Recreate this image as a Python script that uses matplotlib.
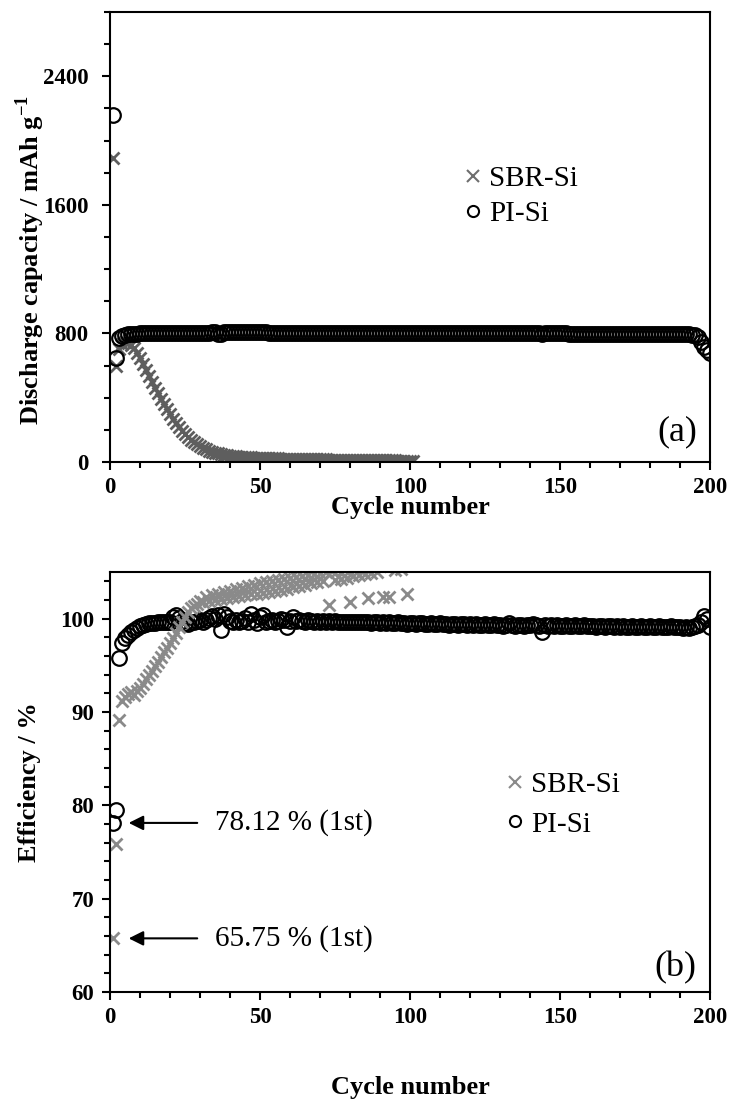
import matplotlib
matplotlib.use("Agg")
import matplotlib.pyplot as plt
from matplotlib.ticker import MultipleLocator
from matplotlib.lines import Line2D

plt.rcParams['font.family'] = ['Liberation Serif', 'DejaVu Serif']
plt.rcParams['mathtext.fontset'] = 'custom'
plt.rcParams['mathtext.rm'] = 'Liberation Serif:bold'
plt.rcParams['mathtext.bf'] = 'Liberation Serif:bold'

# discharge capacity (mAh/g) per cycle
sbr_cap = [
    1890, 600, 700, 735, 745, 740, 728, 708, 680, 648,
    612, 575, 538, 500, 463, 428, 393, 360, 328, 298,
    270, 243, 218, 195, 174, 155, 138, 123, 110, 98,
    88, 79, 71, 64, 58, 53, 49, 45, 42, 39,
    37, 35, 33, 31, 30, 29, 28, 27, 26, 25,
    24, 24, 23, 23, 22, 22, 21, 21, 20, 20,
    19, 19, 19, 18, 18, 18, 17, 17, 17, 16,
    16, 16, 15, 15, 15, 14, 14, 14, 14, 13,
    13, 13, 13, 12, 12, 12, 12, 11, 11, 11,
    11, 10, 10, 10, 10, 9, 9, 9, 9, 8, 8,
]
pi_cap = [
    2160, 645, 772, 786, 792, 795, 797, 798, 799, 800,
    800, 801, 801, 801, 802, 802, 802, 803, 803, 803,
    803, 804, 804, 804, 804, 804, 805, 805, 805, 805,
    805, 805, 805, 806, 806, 798, 795, 806, 806, 806,
    806, 806, 806, 806, 806, 806, 806, 806, 806, 806,
    806, 806, 805, 805, 805, 805, 805, 805, 805, 805,
    805, 805, 805, 805, 805, 805, 805, 805, 805, 804,
    804, 804, 804, 804, 804, 804, 804, 804, 804, 804,
    804, 804, 804, 804, 803, 803, 803, 803, 803, 803,
    803, 803, 803, 803, 803, 803, 803, 803, 803, 802,
    802, 802, 802, 802, 802, 802, 802, 802, 802, 802,
    802, 802, 802, 802, 801, 801, 801, 801, 801, 801,
    801, 801, 801, 801, 801, 801, 801, 801, 801, 801,
    801, 800, 800, 800, 800, 800, 800, 800, 800, 800,
    800, 800, 800, 796, 800, 800, 800, 800, 800, 800,
    800, 800, 799, 799, 799, 799, 799, 799, 799, 799,
    799, 799, 799, 799, 799, 798, 798, 798, 798, 798,
    798, 798, 798, 798, 798, 798, 798, 798, 798, 798,
    797, 797, 797, 797, 797, 797, 797, 797, 797, 797,
    797, 796, 795, 793, 788, 775, 745, 718, 698, 680,
]

# coulombic efficiency (%) per cycle
sbr_eff = [
    65.75, 75.9, 89.2, 91.2, 91.6, 91.9, 92.1, 91.8, 92.3, 92.6,
    93.0, 93.5, 94.0, 94.4, 94.9, 95.4, 95.9, 96.4, 96.9, 97.4,
    97.9, 98.5, 99.1, 99.6, 100.2, 100.7, 101.1, 101.4, 101.6, 101.9,
    101.8, 102.3, 101.9, 102.5, 102.0, 102.7, 102.1, 102.9, 102.2, 103.0,
    102.3, 103.2, 102.4, 103.3, 102.5, 103.5, 102.6, 103.6, 102.7, 103.8,
    102.8, 103.9, 102.9, 104.0, 103.0, 104.1, 103.1, 104.3, 103.2, 104.4,
    103.4, 104.5, 103.5, 104.6, 103.6, 104.7, 103.8, 104.8, 103.9, 104.9,
    104.0, 105.0, 101.5, 105.1, 104.2, 105.2, 104.3, 105.3, 104.4, 101.8,
    104.6, 105.4, 104.7, 105.5, 104.8, 102.2, 104.9, 105.6, 105.0, 105.7,
    102.3, 105.8, 102.3, 105.9, 105.2, 106.0, 105.3, 106.1, 102.7, 106.2,
]
pi_eff = [
    78.12, 79.5, 95.8, 97.4, 97.9, 98.3, 98.6, 98.8, 99.0, 99.2,
    99.3, 99.4, 99.5, 99.5, 99.5, 99.6, 99.6, 99.6, 99.7, 99.7,
    100.2, 100.4, 100.1, 99.8, 99.5, 99.4, 99.6, 99.7, 99.8, 99.9,
    99.7, 99.9, 100.1, 100.3, 100.0, 100.4, 98.8, 100.5, 100.2, 99.8,
    99.7, 99.9, 99.6, 99.8, 100.1, 99.7, 100.5, 99.9, 99.5, 100.2,
    100.4, 99.6, 99.8, 99.9, 99.7, 99.8, 100.0, 99.9, 99.1, 99.8,
    100.2, 99.8, 99.9, 99.8, 99.7, 99.9, 99.8, 99.7, 99.8, 99.7,
    99.8, 99.7, 99.8, 99.7, 99.8, 99.7, 99.7, 99.6, 99.7, 99.6,
    99.7, 99.6, 99.6, 99.7, 99.6, 99.6, 99.5, 99.6, 99.6, 99.5,
    99.6, 99.5, 99.6, 99.5, 99.5, 99.6, 99.5, 99.5, 99.4, 99.5,
    99.5, 99.4, 99.5, 99.5, 99.4, 99.4, 99.5, 99.4, 99.4, 99.5,
    99.4, 99.4, 99.3, 99.4, 99.4, 99.3, 99.4, 99.4, 99.3, 99.4,
    99.3, 99.4, 99.3, 99.3, 99.4, 99.3, 99.3, 99.4, 99.3, 99.3,
    99.2, 99.3, 99.5, 99.3, 99.2, 99.3, 99.3, 99.2, 99.3, 99.3,
    99.4, 99.3, 99.2, 98.6, 99.3, 99.2, 99.3, 99.2, 99.3, 99.2,
    99.2, 99.3, 99.2, 99.2, 99.3, 99.2, 99.2, 99.3, 99.2, 99.2,
    99.2, 99.1, 99.2, 99.2, 99.1, 99.2, 99.2, 99.1, 99.2, 99.1,
    99.2, 99.1, 99.1, 99.2, 99.1, 99.1, 99.2, 99.1, 99.1, 99.2,
    99.1, 99.1, 99.2, 99.1, 99.1, 99.1, 99.2, 99.1, 99.1, 99.1,
    99.0, 99.1, 99.0, 99.1, 99.2, 99.3, 99.7, 100.3, 100.0, 99.1,
]

first_cycle_labels = ['78.12 % (1st)', '65.75 % (1st)']
first_cycle_values = [78.12, 65.75]

sbr_cycles = list(range(1, len(sbr_cap) + 1))
sbr_eff_cycles = list(range(1, len(sbr_eff) + 1))
pi_cycles = list(range(1, len(pi_cap) + 1))

fig = plt.figure(figsize=(7.3, 11.02), dpi=100)
ax1 = fig.add_axes([0.1507, 0.5808, 0.8219, 0.4083])
ax2 = fig.add_axes([0.1507, 0.0998, 0.8219, 0.3811])

circ = dict(marker='o', ls='none', mfc='none', mec='black', ms=10.5, mew=1.6)


def style_axis(ax, ypad):
    for s in ax.spines.values():
        s.set_linewidth(1.5)
    ax.xaxis.set_major_locator(MultipleLocator(50))
    ax.xaxis.set_minor_locator(MultipleLocator(10))
    ax.tick_params(which='both', direction='out', width=1.5, top=False, right=False)
    ax.tick_params(which='major', length=5.5, labelsize=16.5)
    ax.tick_params(which='minor', length=4)
    ax.tick_params(axis='y', which='major', pad=ypad)
    ax.tick_params(axis='x', which='major', pad=5)
    for lab in ax.get_xticklabels() + ax.get_yticklabels():
        lab.set_fontweight('bold')
    ax.set_xlim(0, 200)
    ax.set_xlabel('Cycle number', fontsize=19, fontweight='bold')


# (a) discharge capacity
ax1.plot(sbr_cycles, sbr_cap, marker='x', ls='none', color='#5e5e5e', ms=9, mew=2)
ax1.plot(pi_cycles, pi_cap, **circ)
ax1.set_ylim(0, 2800)
ax1.yaxis.set_major_locator(MultipleLocator(800))
ax1.yaxis.set_minor_locator(MultipleLocator(200))
style_axis(ax1, 10)
ax1.set_ylabel('Discharge capacity / mAh g$^{-1}$', fontsize=19, fontweight='bold')
ax1.yaxis.set_label_coords(-0.105, 0.45)
ax1.xaxis.set_label_coords(0.5, -0.075)
ax1.text(0.978, 0.067, '(a)', transform=ax1.transAxes, ha='right', va='center', fontsize=26)

h1 = [Line2D([], [], marker='x', ls='none', color='#6e6e6e', ms=8, mew=1.5),
      Line2D([], [], marker='o', ls='none', mfc='none', mec='black', ms=8, mew=1.5)]
ax1.legend(h1, ['SBR-Si', 'PI-Si'], loc='center left', bbox_to_anchor=(0.588, 0.59),
           frameon=False, fontsize=21, handlelength=0.7, handletextpad=0.2,
           labelspacing=0.3, borderpad=0, borderaxespad=0)

# (b) efficiency
ax2.plot(pi_cycles, pi_eff, **circ)
ax2.plot(sbr_eff_cycles, sbr_eff, marker='x', ls='none', color='#8a8a8a', ms=9, mew=2)
ax2.set_ylim(60, 105)
ax2.yaxis.set_major_locator(MultipleLocator(10))
ax2.yaxis.set_minor_locator(MultipleLocator(2))
style_axis(ax2, 6)
ax2.set_ylabel('Efficiency / %', fontsize=19, fontweight='bold')
ax2.yaxis.set_label_coords(-0.115, 0.5)
ax2.xaxis.set_label_coords(0.5, -0.20)
ax2.text(0.978, 0.057, '(b)', transform=ax2.transAxes, ha='right', va='center', fontsize=26)

for lab, val in zip(first_cycle_labels, first_cycle_values):
    ax2.annotate('', xy=(5.3, val), xytext=(30, val),
                 arrowprops=dict(arrowstyle='-|>', color='black', lw=1.5, mutation_scale=22))
    ax2.text(35, val, lab, ha='left', va='center', fontsize=21)

h2 = [Line2D([], [], marker='x', ls='none', color='#8a8a8a', ms=8, mew=1.5),
      Line2D([], [], marker='o', ls='none', mfc='none', mec='black', ms=8, mew=1.5)]
ax2.legend(h2, ['SBR-Si', 'PI-Si'], loc='center left', bbox_to_anchor=(0.658, 0.446),
           frameon=False, fontsize=21, handlelength=0.7, handletextpad=0.2,
           labelspacing=0.45, borderpad=0, borderaxespad=0)

fig.savefig('out.png', dpi=100)
